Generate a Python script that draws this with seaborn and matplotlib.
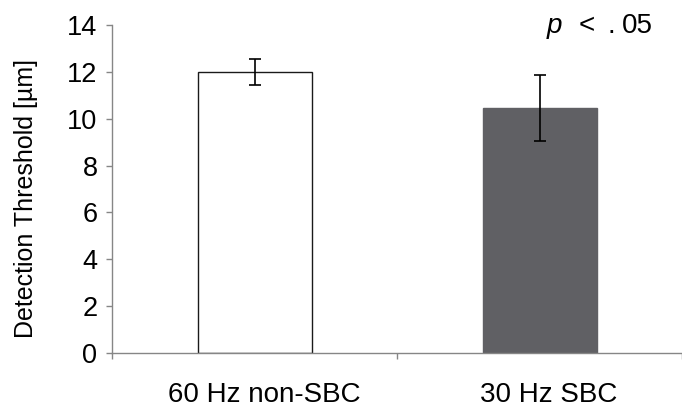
import matplotlib
matplotlib.use("Agg")
import matplotlib.pyplot as plt
import matplotlib.transforms as mtransforms
import seaborn as sns
import pandas as pd

# Data
categories = ["60 Hz non-SBC", "30 Hz SBC"]
thresholds = [12.0, 10.45]
errors = [0.57, 1.4]
bar_colors = ["#ffffff", "#606064"]
edge_colors = ["#1a1a1a", "#606064"]
y_ticks = [0, 2, 4, 6, 8, 10, 12, 14]

sns.set_theme(style="white")
plt.rcParams["font.family"] = ["Liberation Sans", "DejaVu Sans"]
plt.rcParams["text.color"] = "black"
plt.rcParams["axes.labelcolor"] = "black"
plt.rcParams["xtick.labelcolor"] = "black"
plt.rcParams["ytick.labelcolor"] = "black"

W, H = 682, 416
fig = plt.figure(figsize=(W / 100, H / 100), dpi=100)
ax = fig.add_axes([112 / W, (H - 353) / H, (W - 112) / W, (353 - 25) / H])

df = pd.DataFrame({"cond": categories, "thr": thresholds})
sns.barplot(data=df, x="cond", y="thr", hue="cond", palette=bar_colors,
            width=0.4, legend=False, ax=ax, errorbar=None, saturation=1)
for patch, ec in zip(ax.patches, edge_colors):
    patch.set_edgecolor(ec)
    patch.set_linewidth(1.0)

ax.errorbar(range(len(categories)), thresholds, yerr=errors, fmt="none",
            ecolor="black", elinewidth=1.2, capsize=4.5, capthick=1.2)

ax.set_xlim(-0.5, 1.486)
ax.set_ylim(0, 14)
ax.set_yticks(y_ticks)
ax.tick_params(axis="y", which="major", length=4.5, width=1, color="#868686",
               direction="out", labelsize=19.5, pad=6, left=True,
               labelcolor="black")
ax.set_xticks([0, 1])
ax.set_xticks([-0.5, 0.5, 1.5], minor=True)
ax.tick_params(axis="x", which="major", length=0, labelsize=20, pad=21,
               labelcolor="black")
ax.tick_params(axis="x", which="minor", length=4.5, width=1, color="#868686",
               direction="out", bottom=True)
offset = mtransforms.ScaledTranslation(9.5 / 100, 0, fig.dpi_scale_trans)
for lbl in ax.get_xticklabels():
    lbl.set_transform(lbl.get_transform() + offset)

ax.set_xlabel("")
ax.set_ylabel("Detection Threshold [µm]", fontsize=18, color="black")
ax.yaxis.set_label_coords(-0.13, 0.47)

for side in ["top", "right"]:
    ax.spines[side].set_visible(False)
for side in ["left", "bottom"]:
    ax.spines[side].set_color("#868686")
    ax.spines[side].set_linewidth(1.0)

# Significance note
base_y = (H - 33) / H
fig.text(547 / W, base_y, "p", fontsize=20, style="italic", va="baseline", ha="left")
fig.text(579 / W, base_y, "<", fontsize=20, va="baseline", ha="left")
fig.text(607 / W, base_y, ".", fontsize=20, va="baseline", ha="left")
fig.text(622 / W, base_y, "05", fontsize=20, va="baseline", ha="left")

fig.savefig("out.png", dpi=100)
